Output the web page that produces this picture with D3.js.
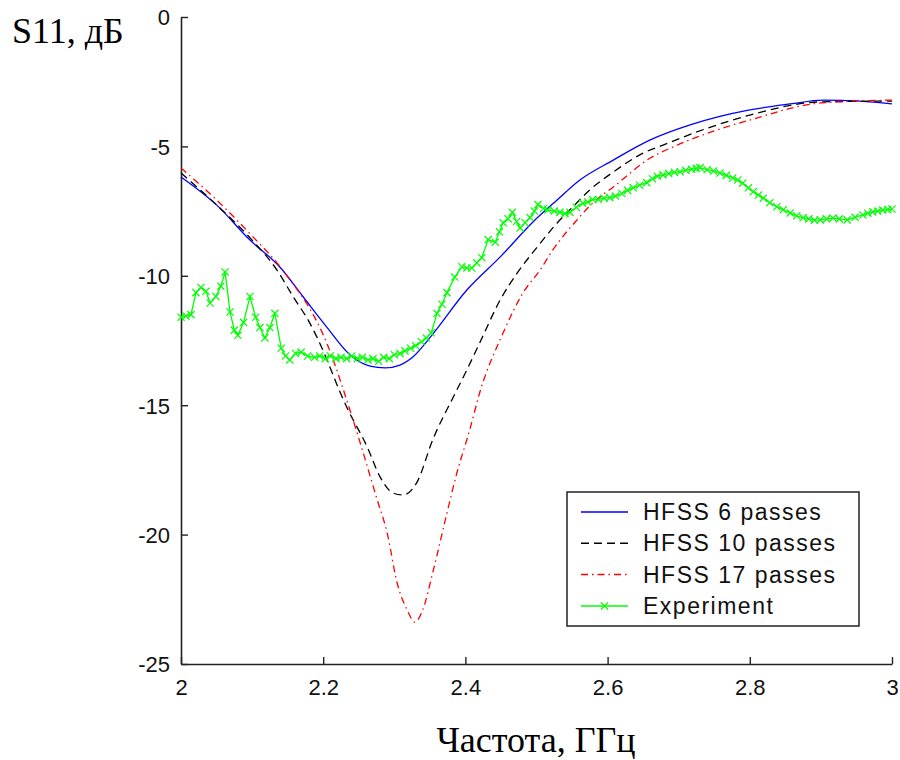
<!DOCTYPE html>
<html><head><meta charset="utf-8">
<script src="https://cdn.jsdelivr.net/npm/d3@7/dist/d3.min.js"></script>
<style>body{margin:0;background:#fff}svg{display:block}</style>
</head><body>
<svg id="c" width="900" height="760"></svg>
<script>
const xTicks = [2, 2.2, 2.4, 2.6, 2.8, 3];
const xTickLabels = ["2", "2.2", "2.4", "2.6", "2.8", "3"];
const yTicks = [-25, -20, -15, -10, -5, 0];
const yTickLabels = ["-25", "-20", "-15", "-10", "-5", "0"];
const seriesNames = ["HFSS 6 passes", "HFSS 10 passes", "HFSS 17 passes", "Experiment"];

const freq6 = [2.0,2.05,2.097,2.139,2.172,2.205,2.238,2.266,2.287,2.308,2.326,2.353,2.402,2.449,2.495,2.529,2.561,2.608,2.66,2.716,2.8,2.857,2.903,2.955,3.0];
const s11_6 = [-6.18,-7.26,-8.62,-9.66,-10.82,-11.98,-13.06,-13.49,-13.56,-13.45,-13.14,-12.29,-10.55,-9.27,-7.92,-7.07,-6.30,-5.53,-4.75,-4.17,-3.59,-3.36,-3.21,-3.25,-3.36];

const freq10 = [2.0,2.05,2.1,2.135,2.158,2.181,2.191,2.233,2.262,2.28,2.298,2.312,2.332,2.354,2.383,2.402,2.42,2.449,2.473,2.501,2.529,2.551,2.575,2.608,2.65,2.678,2.74,2.8,2.9,3.0];
const s11_10 = [-6.03,-7.26,-8.62,-9.78,-10.82,-11.82,-12.36,-15.07,-16.62,-17.77,-18.39,-18.47,-17.97,-16.34,-14.68,-13.64,-12.6,-10.93,-9.89,-8.89,-7.96,-7.34,-6.68,-5.99,-5.26,-4.95,-4.3,-3.79,-3.28,-3.25];

const freq17 = [2.0,2.05,2.1,2.143,2.205,2.242,2.276,2.29,2.304,2.318,2.329,2.34,2.354,2.374,2.388,2.406,2.42,2.453,2.481,2.505,2.523,2.557,2.579,2.608,2.66,2.698,2.75,2.8,2.9,3.0];
const s11_17 = [-5.83,-7.07,-8.46,-9.78,-12.6,-15.57,-18.66,-19.94,-21.87,-22.91,-23.38,-22.91,-21.48,-19.17,-17.62,-15.96,-14.53,-12.21,-10.66,-9.78,-9.0,-7.84,-7.19,-6.57,-5.45,-4.95,-4.4,-3.98,-3.32,-3.21];

const freqExp = [2.000,2.007,2.014,2.021,2.028,2.035,2.041,2.049,2.056,2.062,2.069,2.075,2.08,2.088,2.097,2.105,2.111,2.118,2.125,2.132,2.141,2.147,2.153,2.161,2.169,2.178,2.188,2.195,2.203,2.21,2.218,2.225,2.233,2.24,2.248,2.255,2.263,2.27,2.278,2.285,2.293,2.3,2.308,2.315,2.323,2.33,2.338,2.345,2.352,2.36,2.367,2.374,2.385,2.395,2.402,2.409,2.416,2.423,2.432,2.442,2.448,2.453,2.46,2.466,2.472,2.477,2.484,2.491,2.497,2.502,2.51,2.516,2.525,2.533,2.54,2.547,2.556,2.565,2.572,2.579,2.587,2.595,2.603,2.611,2.62,2.628,2.636,2.645,2.655,2.663,2.67,2.678,2.686,2.694,2.702,2.71,2.718,2.725,2.73,2.74,2.749,2.758,2.767,2.776,2.783,2.79,2.798,2.805,2.812,2.819,2.828,2.838,2.847,2.857,2.866,2.875,2.883,2.891,2.899,2.908,2.917,2.926,2.937,2.948,2.959,2.966,2.973,2.98,2.987,2.994,3.0];
const s11Exp = [-11.6,-11.55,-11.5,-10.65,-10.45,-10.6,-11.05,-10.8,-10.4,-9.85,-11.4,-12.1,-12.3,-11.8,-10.8,-11.6,-12.0,-12.4,-12.0,-11.45,-12.8,-13.1,-13.25,-13.0,-12.95,-13.1,-13.15,-13.1,-13.2,-13.1,-13.2,-13.15,-13.2,-13.1,-13.2,-13.15,-13.25,-13.2,-13.3,-13.15,-13.2,-13.05,-13.0,-12.9,-12.8,-12.7,-12.55,-12.4,-12.2,-11.45,-11.1,-10.65,-10.05,-9.65,-9.7,-9.7,-9.5,-9.3,-8.6,-8.7,-8.3,-7.95,-7.8,-7.55,-7.9,-8.15,-7.95,-7.75,-7.5,-7.25,-7.4,-7.45,-7.5,-7.55,-7.6,-7.55,-7.35,-7.2,-7.15,-7.05,-7.05,-7.0,-6.98,-6.92,-6.82,-6.7,-6.6,-6.5,-6.4,-6.25,-6.15,-6.1,-6.05,-6.0,-5.98,-5.92,-5.88,-5.85,-5.82,-5.9,-5.95,-6.03,-6.12,-6.22,-6.3,-6.42,-6.6,-6.75,-6.88,-7.0,-7.18,-7.33,-7.45,-7.57,-7.68,-7.76,-7.8,-7.85,-7.84,-7.8,-7.77,-7.8,-7.84,-7.74,-7.65,-7.58,-7.53,-7.5,-7.46,-7.44,-7.42];

const svg = d3.select("#c");
const x = d3.scaleLinear().domain([2, 3]).range([181, 892]);
const y = d3.scaleLinear().domain([-25, 0]).range([664, 17]);

const tickFont = "'Liberation Sans', Arial, sans-serif";

// axes
const xAxis = d3.axisBottom(x).tickValues(xTicks).tickFormat((d,i)=>xTickLabels[i]).tickSizeInner(-7).tickSizeOuter(0).tickPadding(14);
const gx = svg.append("g").attr("transform","translate(0,664)").call(xAxis);
const yAxis = d3.axisLeft(y).tickValues(yTicks).tickFormat((d,i)=>yTickLabels[i]).tickSizeInner(-7).tickSizeOuter(0).tickPadding(11);
const gy = svg.append("g").attr("transform","translate(181,0)").call(yAxis);
[gx, gy].forEach(g=>{
  g.select(".domain").attr("stroke","#222").attr("stroke-width",1.6);
  g.selectAll(".tick line").attr("stroke","#222").attr("stroke-width",1.4);
  g.selectAll(".tick text").attr("font-family",tickFont).attr("font-size",22).attr("fill","#111");
});
gx.selectAll(".tick text").attr("dy","0.78em");
gy.selectAll(".tick text").attr("dy","0.36em");

// lines
const line = d3.line().x(d=>x(d[0])).y(d=>y(d[1])).curve(d3.curveMonotoneX);
const sim = [
  {f:freq6, v:s11_6, color:"#0000ff", dash:null},
  {f:freq10, v:s11_10, color:"#000000", dash:"8,5"},
  {f:freq17, v:s11_17, color:"#ff0000", dash:"7,4,1.5,4"}
];
const plot = svg.append("g");
sim.forEach(s=>{
  plot.append("path").datum(s.f.map((f,i)=>[f,s.v[i]]))
    .attr("d", line).attr("fill","none").attr("stroke", s.color)
    .attr("stroke-width",1.3).attr("stroke-dasharray", s.dash);
});
const expData = freqExp.map((f,i)=>[f, s11Exp[i]]);
plot.append("path").datum(expData)
  .attr("d", d3.line().x(d=>x(d[0])).y(d=>y(d[1])))
  .attr("fill","none").attr("stroke","#00ff00").attr("stroke-width",1.3);
const m = 3.6;
function xMarker(sel){
  sel.append("path").attr("d", `M${-m},${-m}L${m},${m}M${-m},${m}L${m},${-m}`)
    .attr("stroke","#00ff00").attr("stroke-width",1.2).attr("fill","none");
}
plot.selectAll("g.mk").data(expData).join("g").attr("class","mk")
  .attr("transform", d=>`translate(${x(d[0])},${y(d[1])})`).call(xMarker);

// legend
const lg = svg.append("g");
lg.append("rect").attr("x",567).attr("y",492).attr("width",292).attr("height",134)
  .attr("fill","#fff").attr("stroke","#222").attr("stroke-width",1.5);
const legStyles = [
  {color:"#0000ff", dash:null},
  {color:"#000000", dash:"8,5"},
  {color:"#ff0000", dash:"7,4,1.5,4"},
  {color:"#00ff00", dash:null, marker:true}
];
seriesNames.forEach((name,i)=>{
  const cy = 512 + i*31.3;
  lg.append("line").attr("x1",581).attr("x2",628).attr("y1",cy).attr("y2",cy)
    .attr("stroke",legStyles[i].color).attr("stroke-width",1.5).attr("stroke-dasharray",legStyles[i].dash);
  if (legStyles[i].marker) {
    lg.append("g").attr("transform",`translate(604.5,${cy})`).call(xMarker);
  }
  lg.append("text").attr("x",643).attr("y",cy+8).text(name)
    .attr("font-family",tickFont).attr("font-size",23).attr("letter-spacing",1.5).attr("fill","#111");
});

// axis titles
svg.append("text").attr("x",12).attr("y",43).text("S11, дБ")
  .attr("font-family","'Liberation Serif', 'Times New Roman', serif").attr("font-size",36).attr("fill","#000");
svg.append("text").attr("x",536).attr("y",752).attr("text-anchor","middle").text("Частота, ГГц")
  .attr("font-family","'Liberation Serif', 'Times New Roman', serif").attr("font-size",36).attr("fill","#000");
</script>
</body></html>
